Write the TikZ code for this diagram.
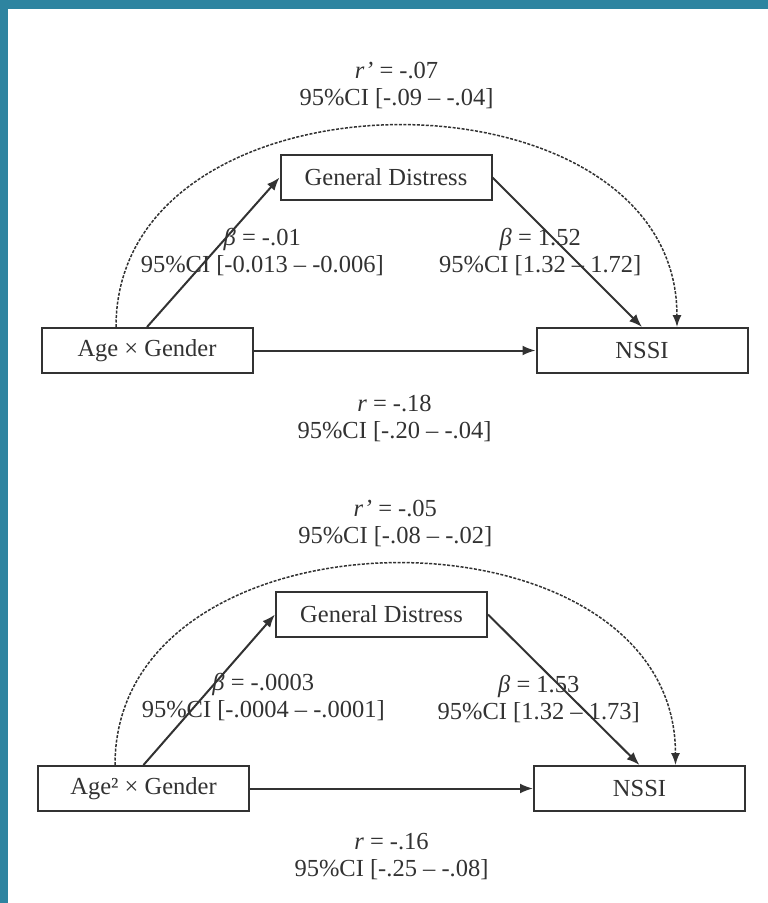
\documentclass[tikz,border=0pt]{standalone}
\usepackage{fontspec}
\setmainfont{Liberation Serif}
\usetikzlibrary{arrows.meta,positioning}
\definecolor{slideblue}{RGB}{46,132,160}
\definecolor{ink}{RGB}{50,50,50}

\begin{document}
\begin{tikzpicture}[
    x=1pt, y=1pt,
    font=\fontsize{24.5}{27}\selectfont,
    var/.style={draw=ink, line width=2pt, minimum width=211pt, minimum height=45pt, inner sep=0pt, text=ink},
    link/.style={-{Latex[length=13pt,width=10pt]}, line width=2pt, draw=ink},
    total/.style={-{Latex[length=12pt,width=9pt]}, line width=1.5pt, draw=ink, dash pattern=on 3pt off 1.5pt},
    lbl/.style={align=center, inner sep=1pt, text=ink}
]
\useasboundingbox (0,0) rectangle (768,-903);
\fill[slideblue] (0,0) rectangle (768,-9);
\fill[slideblue] (0,0) rectangle (8,-903);

% model with age
\node[var] (agex) at (147,-350.5) {Age × Gender};
\node[var, right=282pt of agex] (nssi) {NSSI};
\node[var, above right=126pt and 26pt of agex] (gd) {General Distress};

\draw[total] ([xshift=-31pt]agex.north) .. controls +(0,268) and +(0,268) .. node[lbl, midway, above=15pt] {\textit{r’} = -.07\\95\%CI [-.09 – -.04]} ([xshift=35pt]nssi.north);
\draw[link] (agex.north) -- node[lbl, midway, xshift=49pt] {\textit{β} = -.01\\95\%CI [-0.013 – -0.006]} (gd.west);
\draw[link] (gd.east) -- node[lbl, midway, xshift=-27pt] {\textit{β} = 1.52\\95\%CI [1.32 – 1.72]} (nssi.north);
\draw[link] (agex.east) -- node[lbl, midway, below=43pt] {\textit{r} = -.18\\95\%CI [-.20 – -.04]} (nssi.west);

% model with age squared
\node[var] (agesqx) at (143.5,-788.5) {Age² × Gender};
\node[var, right=283pt of agesqx] (nssib) {NSSI};
\node[var, above right=127pt and 25pt of agesqx] (gdb) {General Distress};

\draw[total] ([xshift=-28.5pt]agesqx.north) .. controls +(0,268) and +(0,268) .. node[lbl, midway, above=15pt] {\textit{r’} = -.05\\95\%CI [-.08 – -.02]} ([xshift=36pt]nssib.north);
\draw[link] (agesqx.north) -- node[lbl, midway, xshift=54pt, yshift=-7pt] {\textit{β} = -.0003\\95\%CI [-.0004 – -.0001]} (gdb.west);
\draw[link] (gdb.east) -- node[lbl, midway, xshift=-25pt, yshift=-9pt] {\textit{β} = 1.53\\95\%CI [1.32 – 1.73]} (nssib.north);
\draw[link] (agesqx.east) -- node[lbl, midway, below=43pt] {\textit{r} = -.16\\95\%CI [-.25 – -.08]} (nssib.west);
\end{tikzpicture}
\end{document}
